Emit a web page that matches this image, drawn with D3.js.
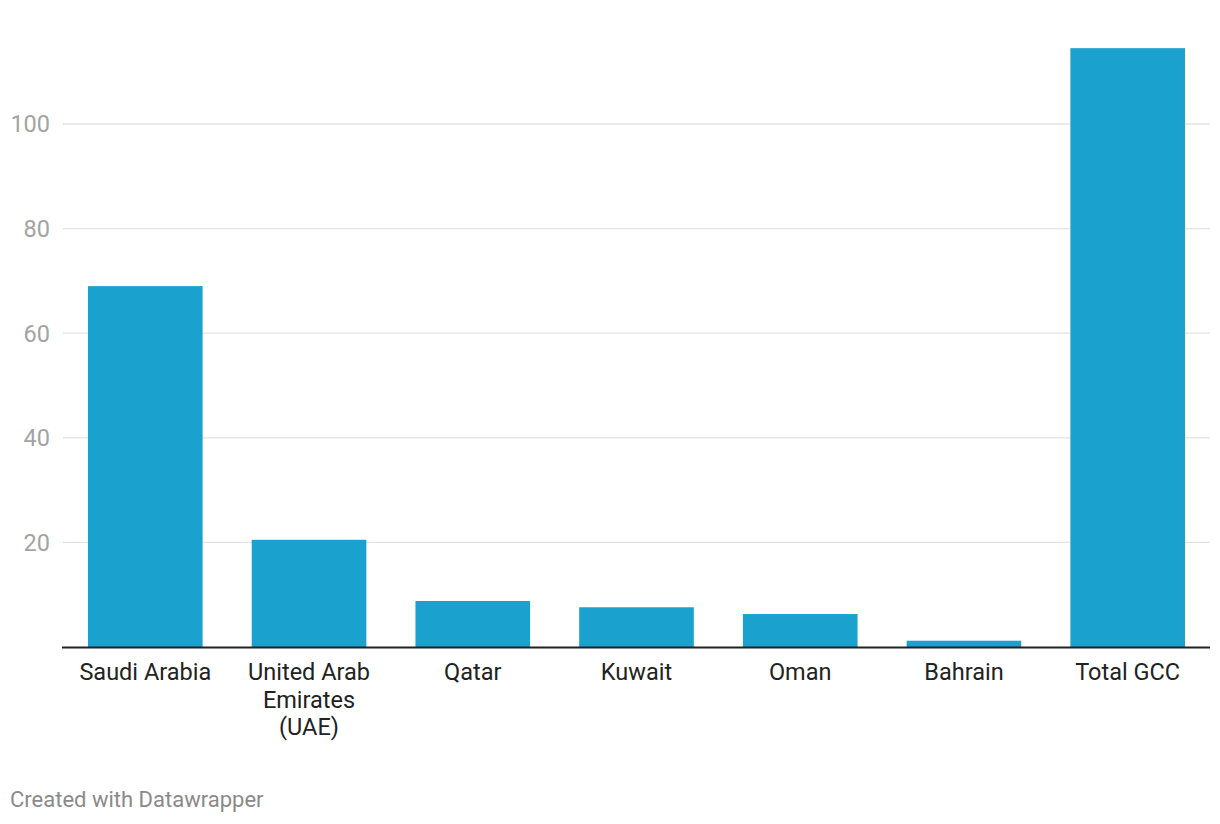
<!DOCTYPE html>
<html><head><meta charset="utf-8">
<script src="https://cdn.jsdelivr.net/npm/d3@7"></script>
<style>body{margin:0;background:#fff;font-family:Roboto,sans-serif}</style>
</head><body><svg id="c" width="1220" height="824"></svg>
<script>
const categories = ["Saudi Arabia", "United Arab Emirates (UAE)", "Qatar", "Kuwait", "Oman", "Bahrain", "Total GCC"];
const labelLines = [["Saudi Arabia"], ["United Arab", "Emirates", "(UAE)"], ["Qatar"], ["Kuwait"], ["Oman"], ["Bahrain"], ["Total GCC"]];
const values = [69.0, 20.5, 8.8, 7.6, 6.3, 1.2, 114.5];
const yTicks = [20, 40, 60, 80, 100];

const svg = d3.select("#c");
const x = d3.scaleBand().domain(categories).range([88, 1185]).paddingInner(0.3).paddingOuter(0);
const y = d3.scaleLinear().domain([0, 100]).range([647, 124]);

const grid = svg.append("g");
grid.selectAll("line").data(yTicks).join("line")
  .attr("x1", 63).attr("x2", 1210)
  .attr("y1", y(0)).attr("y2", y(0))
  .attr("y1", d => y(d)).attr("y2", d => y(d))
  .attr("stroke", "#e3e3e3").attr("stroke-width", 1.3);
grid.selectAll("text").data(yTicks).join("text")
  .attr("x", 50).attr("y", d => y(d)).attr("dy", "0.36em")
  .attr("text-anchor", "end").attr("fill", "#a3a3a3")
  .attr("font-size", 23.5).text(d => d);

svg.append("g").selectAll("rect").data(values).join("rect")
  .attr("x", (d, i) => x(categories[i])).attr("width", x.bandwidth())
  .attr("y", d => y(d)).attr("height", d => y(0) - y(d))
  .attr("fill", "#1aa1cd");

svg.append("line").attr("x1", 62).attr("x2", 1210)
  .attr("y1", y(0) + 0.5).attr("y2", y(0) + 0.5)
  .attr("stroke", "#222").attr("stroke-width", 2);

const lab = svg.append("g").selectAll("text").data(categories).join("text")
  .attr("x", d => x(d) + x.bandwidth() / 2).attr("y", 680)
  .attr("text-anchor", "middle").attr("fill", "#222").attr("font-size", 23.5);
lab.each(function(d, i) {
  d3.select(this).selectAll("tspan").data(labelLines[i]).join("tspan")
    .attr("x", x(d) + x.bandwidth() / 2).attr("dy", (t, j) => j === 0 ? 0 : 27.5).text(t => t);
});

svg.append("text").attr("x", 10).attr("y", 807).attr("fill", "#8a8a8a")
  .attr("font-size", 22).text("Created with Datawrapper");
</script></body></html>
